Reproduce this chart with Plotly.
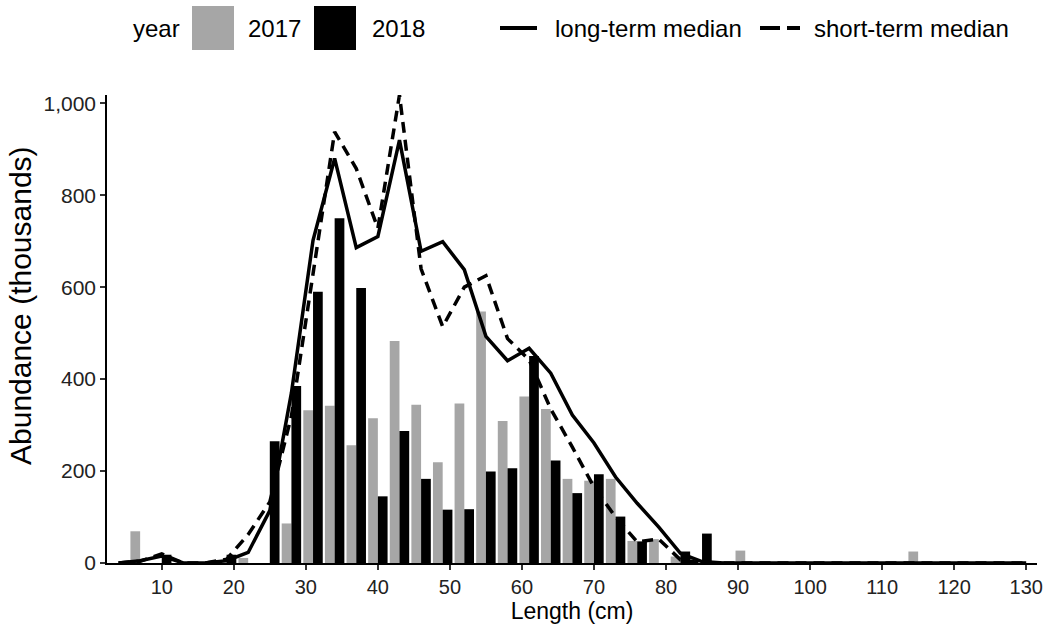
import plotly.graph_objects as go

# ---------------- data ----------------
length_cm = list(range(4, 131, 3))  # 4, 7, ..., 130

abund_2017 = [0, 69, 0, 0, 0, 0, 11, 0, 86, 332, 342, 256, 315, 483, 344, 219, 347, 547,
              309, 362, 335, 183, 179, 183, 48, 52, 14, 0, 0, 27, 0, 0, 0, 0, 0, 0, 0, 25,
              0, 0, 0, 0, 0]
abund_2018 = [0, 0, 18, 0, 0, 18, 0, 265, 385, 590, 750, 598, 145, 287, 183, 116, 117, 199,
              206, 450, 223, 152, 193, 101, 47, 0, 25, 64, 0, 0, 0, 0, 0, 0, 0, 0, 0, 0,
              0, 0, 0, 0, 0]
long_term_median = [0, 5, 15, 0, 0, 5, 23, 114, 370, 702, 880, 686, 710, 920, 678, 699, 638,
                    493, 440, 467, 413, 322, 261, 187, 130, 78, 21, 3, 0, 0, 0, 0, 0, 0, 0,
                    0, 0, 0, 0, 0, 0, 0, 0]
short_term_median = [0, 4, 20, 0, 0, 8, 62, 133, 320, 630, 938, 858, 728, 1018, 640, 514, 600,
                     625, 488, 442, 335, 252, 165, 100, 46, 52, 7, 0, 0, 0, 0, 0, 0, 0, 0,
                     0, 0, 0, 0, 0, 0, 0, 0]

x_ticks = list(range(10, 131, 10))
y_ticks = [0, 200, 400, 600, 800, 1000]

# ---------------- styling ----------------
W, H = 1047, 632
L, R, T, B = 107, 10, 95, 69
SANS = "Liberation Sans, Arial, sans-serif"
GREY = "#A6A6A6"

fig = go.Figure()
fig.add_trace(go.Bar(x=length_cm, y=abund_2017, name="2017", marker=dict(color=GREY, line=dict(width=0)),
                     showlegend=False))
fig.add_trace(go.Bar(x=length_cm, y=abund_2018, name="2018", marker=dict(color="black", line=dict(width=0)),
                     showlegend=False))
fig.add_trace(go.Scatter(x=length_cm, y=long_term_median, mode="lines", name="long-term median",
                         line=dict(color="black", width=3.5), cliponaxis=False, showlegend=False))
fig.add_trace(go.Scatter(x=length_cm, y=short_term_median, mode="lines", name="short-term median",
                         line=dict(color="black", width=3.5, dash="11px,7px"), cliponaxis=False,
                         showlegend=False))

pw = W - L - R
ph = H - T - B


def px(xp):
    return (xp - L) / pw


def py(yp):
    return (H - B - yp) / ph


shapes = []
annotations = []
# custom legend (pixel positions of the reference)
shapes.append(dict(type="rect", xref="paper", yref="paper", x0=px(192), x1=px(234), y0=py(50), y1=py(6),
                   fillcolor=GREY, line=dict(width=0)))
shapes.append(dict(type="rect", xref="paper", yref="paper", x0=px(314), x1=px(356), y0=py(50), y1=py(6),
                   fillcolor="black", line=dict(width=0)))
shapes.append(dict(type="line", xref="paper", yref="paper", x0=px(500), x1=px(537), y0=py(28), y1=py(28),
                   line=dict(color="black", width=4)))
shapes.append(dict(type="line", xref="paper", yref="paper", x0=px(760), x1=px(800), y0=py(28), y1=py(28),
                   line=dict(color="black", width=4, dash="20px,7px")))

for txt, xp in [("year", 131), ("2017", 246), ("2018", 370), ("long-term median", 553),
                ("short-term median", 812)]:
    annotations.append(dict(text=txt, xref="paper", yref="paper", x=px(xp), y=py(28), xanchor="left",
                            yanchor="middle", showarrow=False, font=dict(family=SANS, size=24, color="black")))

# y-axis title placed where the reference shows it
annotations.append(dict(text="Abundance (thousands)", xref="paper", yref="paper", x=px(20), y=py(306),
                        xanchor="center", yanchor="middle", textangle=-90, showarrow=False,
                        font=dict(family=SANS, size=30, color="black")))

fig.update_layout(
    width=W, height=H,
    margin=dict(l=L, r=R, t=T, b=B, autoexpand=False),
    paper_bgcolor="white", plot_bgcolor="white",
    barmode="group", bargap=0.1, bargroupgap=0,
    shapes=shapes, annotations=annotations,
    showlegend=False,
)
fig.update_xaxes(
    range=[2.4, 131.5], tickvals=x_ticks, ticks="outside", ticklen=5, tickwidth=1.5, tickcolor="#333333",
    showline=True, linecolor="black", linewidth=1.5, showgrid=False, zeroline=False,
    tickfont=dict(family=SANS, size=20, color="#222222"),
    title=dict(text="Length (cm)", font=dict(family=SANS, size=23, color="black"), standoff=6),
)
fig.update_yaxes(
    range=[0, 1018], tickvals=y_ticks, tickformat=",d", ticks="outside", ticklen=5, tickwidth=1.5,
    tickcolor="#333333", showline=True, linecolor="black", linewidth=1.5, showgrid=False, zeroline=False,
    tickfont=dict(family=SANS, size=21, color="#222222"),
)

fig.write_html("out.html")
